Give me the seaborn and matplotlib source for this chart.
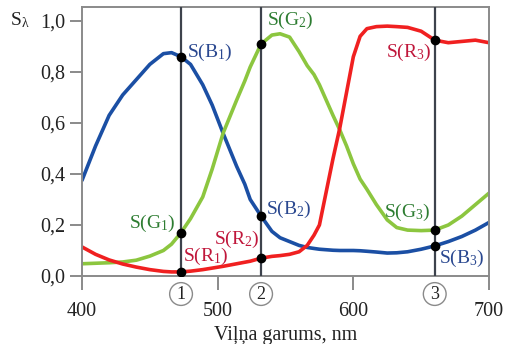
import matplotlib
matplotlib.use("Agg")
import matplotlib.pyplot as plt
import matplotlib.transforms as mtransforms
import seaborn as sns
import pandas as pd

# Spectral sensitivity of the three cone types
wavelength = [400, 410, 420, 430, 440, 450, 460, 466, 473, 480, 489, 496, 504,
              514, 520, 524, 532, 540, 546, 553, 560, 566, 571, 575, 580, 585,
              590, 595, 600, 605, 610, 617, 625, 632, 640, 650, 660, 670, 680,
              690, 700]
s_blue = [0.375, 0.51, 0.63, 0.71, 0.77, 0.83, 0.872, 0.876, 0.86, 0.83, 0.75,
          0.67, 0.56, 0.43, 0.36, 0.30, 0.235, 0.175, 0.15, 0.135, 0.12, 0.112,
          0.108, 0.105, 0.103, 0.101, 0.10, 0.10, 0.10, 0.099, 0.097, 0.094,
          0.09, 0.091, 0.095, 0.105, 0.118, 0.135, 0.155, 0.18, 0.21]
s_green = [0.048, 0.05, 0.052, 0.055, 0.062, 0.078, 0.10, 0.125, 0.17, 0.225,
           0.31, 0.42, 0.56, 0.69, 0.765, 0.82, 0.91, 0.945, 0.95, 0.937, 0.88,
           0.825, 0.79, 0.75, 0.69, 0.63, 0.573, 0.51, 0.44, 0.38, 0.34, 0.28,
           0.22, 0.19, 0.18, 0.178, 0.18, 0.20, 0.235, 0.28, 0.325]
s_red = [0.114, 0.085, 0.063, 0.047, 0.035, 0.025, 0.018, 0.016, 0.016, 0.019,
         0.025, 0.031, 0.038, 0.048, 0.054, 0.058, 0.07, 0.077, 0.08, 0.085,
         0.095, 0.12, 0.16, 0.20, 0.33, 0.46, 0.58, 0.72, 0.86, 0.94, 0.97,
         0.978, 0.98, 0.978, 0.975, 0.96, 0.925, 0.915, 0.92, 0.925, 0.915]

# Wavelengths of the three marked light sources
marks = [473, 532, 660]
mark_labels = ["1", "2", "3"]

x_ticks = [400, 500, 600, 700]
y_ticks = [0.0, 0.2, 0.4, 0.6, 0.8, 1.0]
y_tick_labels = ["0,0", "0,2", "0,4", "0,6", "0,8", "1,0"]

sns.set_style("ticks")
plt.rcParams["font.family"] = ["Liberation Serif", "DejaVu Serif"]
plt.rcParams["mathtext.fontset"] = "custom"
plt.rcParams["mathtext.rm"] = "Liberation Serif"
plt.rcParams["mathtext.it"] = "Liberation Serif:italic"

c_blue, c_green, c_red = "#1b4fa4", "#8cc63f", "#f02020"
t_blue, t_green, t_red = "#2a4890", "#2e7d32", "#c0173b"
axis_gray = "#8a8a8a"
line_dark = "#3d424c"

df = pd.DataFrame({"wavelength": wavelength, "B": s_blue, "G": s_green, "R": s_red})
long = df.melt(id_vars="wavelength", var_name="cone", value_name="S")

fig = plt.figure(figsize=(5.08, 3.44), dpi=100)
ax = fig.add_axes([82 / 508, 68 / 344, 407 / 508, 269 / 344])

sns.lineplot(data=long, x="wavelength", y="S", hue="cone",
             palette={"B": c_blue, "G": c_green, "R": c_red},
             linewidth=2.6, legend=False, ax=ax, zorder=2)

for m in marks:
    ax.axvline(m, color=line_dark, lw=1.6, zorder=3)

# dots where the marked wavelengths meet each curve
for series in (s_blue, s_green, s_red):
    xs = [w for w in wavelength if w in marks]
    ys = [v for w, v in zip(wavelength, series) if w in marks]
    ax.plot(xs, ys, "o", color="black", ms=6, zorder=4)

ax.set_xlim(400, 700)
ax.set_ylim(0, 1.055)
ax.set_xticks(x_ticks)
ax.set_yticks(y_ticks)
ax.set_yticklabels(y_tick_labels)
ax.tick_params(axis="both", direction="out", length=9, width=1.4,
               color=axis_gray, labelsize=14.5, labelcolor="#222222", pad=3)
ax.tick_params(axis="x", length=10, pad=9)
for sp in ax.spines.values():
    sp.set_color(axis_gray)
    sp.set_linewidth(1.4)
ax.set_xlabel("Viļņa garums, nm", fontsize=14.5, color="#222222", labelpad=3)
ax.set_ylabel("")

labels = [
    (r"S(B$_{\mathrm{1}}$)", 477.4, 0.878, "left", t_blue),
    (r"S(G$_{\mathrm{2}}$)", 536.3, 1.004, "left", t_green),
    (r"S(R$_{\mathrm{3}}$)", 657.9, 0.878, "right", t_red),
    (r"S(G$_{\mathrm{1}}$)", 469.3, 0.208, "right", t_green),
    (r"S(R$_{\mathrm{1}}$)", 474.4, 0.075, "left", t_red),
    (r"S(R$_{\mathrm{2}}$)", 531.2, 0.145, "right", t_red),
    (r"S(B$_{\mathrm{2}}$)", 535.6, 0.263, "left", t_blue),
    (r"S(G$_{\mathrm{3}}$)", 657.2, 0.251, "right", t_green),
    (r"S(B$_{\mathrm{3}}$)", 663.1, 0.067, "left", t_blue),
]
for txt, x, y, ha, col in labels:
    ax.text(x, y, txt, ha=ha, va="center", color=col, fontsize=14, zorder=5)

# circled source numbers under the axis
trans = mtransforms.blended_transform_factory(ax.transData, ax.transAxes)
for m, lab in zip(marks, mark_labels):
    ax.text(m, -0.067, lab, transform=trans, ha="center", va="center",
            fontsize=13, color="#222222", clip_on=False,
            bbox=dict(boxstyle="circle,pad=0.16", fc="white", ec=axis_gray, lw=1.0))

fig.text(10 / 508, 1 - 20 / 344, r"S$_{\mathrm{\lambda}}$", ha="left", va="center",
         fontsize=14, color="#222222")

fig.savefig("out.png", dpi=100)
